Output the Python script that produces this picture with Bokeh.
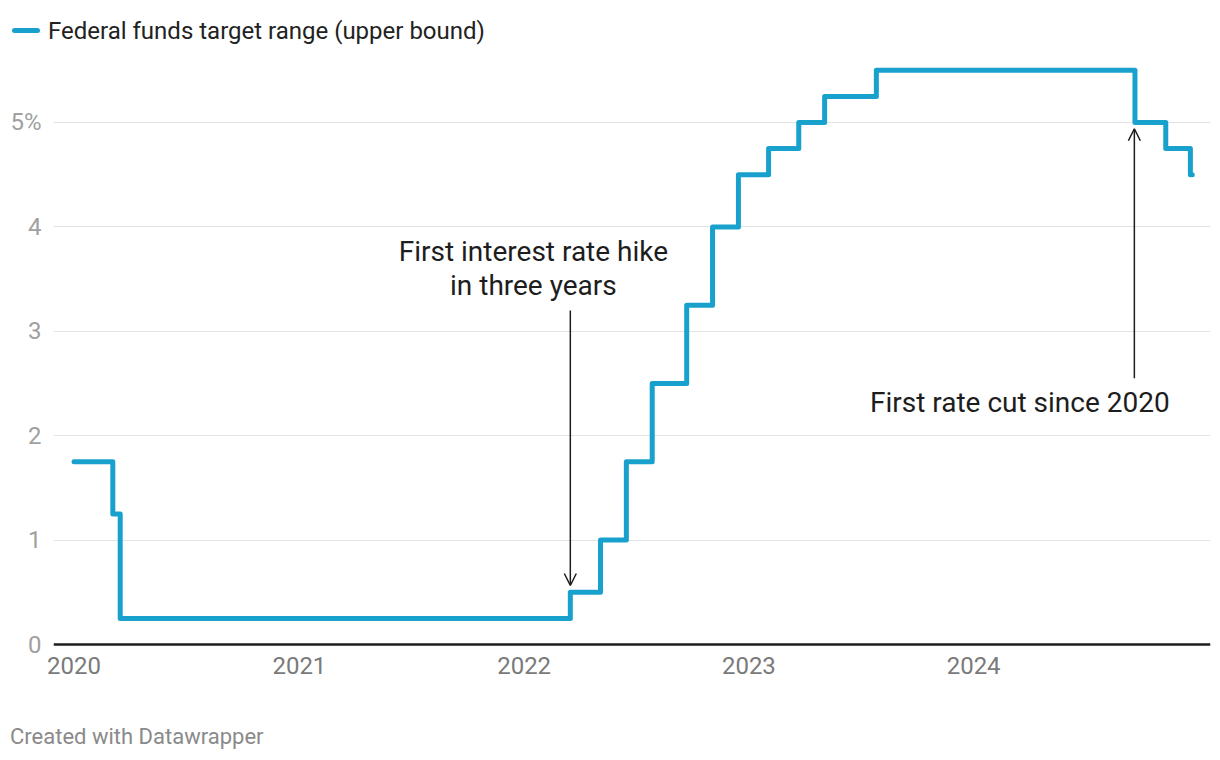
import pandas as pd
from bokeh.plotting import figure
from bokeh.layouts import column
from bokeh.models import (ColumnDataSource, Range1d, FixedTicker, DatetimeTickFormatter,
                          Arrow, OpenHead, Label, Div)
from bokeh.embed import file_html
from bokeh.resources import INLINE

# ---------------- data ----------------
change_dates = ["2020-01-01", "2020-03-04", "2020-03-16", "2022-03-17", "2022-05-05",
                "2022-06-16", "2022-07-28", "2022-09-22", "2022-11-03", "2022-12-15",
                "2023-02-02", "2023-03-23", "2023-05-04", "2023-07-27", "2024-09-19",
                "2024-11-08", "2024-12-18", "2024-12-21"]
upper_bound = [1.75, 1.25, 0.25, 0.50, 1.00,
               1.75, 2.50, 3.25, 4.00, 4.50,
               4.75, 5.00, 5.25, 5.50, 5.00,
               4.75, 4.50, 4.50]
year_ticks = ["2020-01-01", "2021-01-01", "2022-01-01", "2023-01-01", "2024-01-01"]
y_ticks = [0, 1, 2, 3, 4, 5]
series_name = "Federal funds target range (upper bound)"
footer_text = "Created with Datawrapper"

hike_note = ["First interest rate hike", "in three years"]
hike_date = "2022-03-17"
cut_note = "First rate cut since 2020"
cut_date = "2024-09-18"

BLUE = "#18a1cd"
INK = "#1d1d1d"
FONT = "Roboto"
W = 1212


def ms(d):
    return pd.Timestamp(d).timestamp() * 1000.0


src = ColumnDataSource(dict(date=pd.to_datetime(change_dates), rate=upper_bound))

# ---------------- legend (top) ----------------
legend_div = Div(
    text=(f'<div style="position:relative;width:{W}px;height:56px;">'
          f'<div style="position:absolute;left:12px;top:28px;width:28px;height:5px;'
          f'border-radius:3px;background:{BLUE};"></div>'
          f'<div style="position:absolute;left:48px;top:31px;transform:translateY(-50%);'
          f'font-family:{FONT};font-size:24px;line-height:1;color:#222222;white-space:nowrap;">'
          f'{series_name}</div></div>'),
    width=W, height=56, margin=0)

# ---------------- chart ----------------
p = figure(width=W, height=644, output_backend="svg", toolbar_location=None,
           x_axis_type="datetime",
           x_range=Range1d(pd.Timestamp("2019-11-28 16:00"), pd.Timestamp("2025-01-19 16:00")),
           y_range=Range1d(-0.0383, 5.613),
           min_border_left=53, min_border_right=2, min_border_top=2, min_border_bottom=52,
           margin=0)
p.outline_line_color = None
p.background_fill_color = "white"
p.border_fill_color = "white"

# zero baseline
p.hspan(y=[0], line_color=INK, line_width=2.5)

p.step(x="date", y="rate", source=src, mode="after", line_width=5, line_color=BLUE,
       line_join="round", line_cap="round")

# axes
p.xgrid.grid_line_color = None
p.ygrid.grid_line_color = "#e3e3e3"
p.ygrid.grid_line_width = 1
p.ygrid.ticker = FixedTicker(ticks=y_ticks[1:])

p.yaxis.ticker = FixedTicker(ticks=y_ticks)
p.yaxis.major_label_overrides = {5: "5%"}
p.yaxis.axis_line_color = None
p.yaxis.major_tick_line_color = None
p.yaxis.major_tick_out = 0
p.yaxis.major_tick_in = 0
p.yaxis.minor_tick_line_color = None
p.yaxis.major_label_standoff = 12
p.yaxis.major_label_text_font = FONT
p.yaxis.major_label_text_font_size = "24px"
p.yaxis.major_label_text_color = "#a0a0a0"

p.xaxis.ticker = FixedTicker(ticks=[ms(d) for d in year_ticks])
p.xaxis.formatter = DatetimeTickFormatter(years="%Y", months="%Y", days="%Y", hours="%Y")
p.xaxis.axis_line_color = None
p.xaxis.major_tick_line_color = None
p.xaxis.major_tick_out = 0
p.xaxis.major_tick_in = 0
p.xaxis.minor_tick_line_color = None
p.xaxis.major_label_standoff = 8
p.xaxis.major_label_text_font = FONT
p.xaxis.major_label_text_font_size = "24px"
p.xaxis.major_label_text_color = "#7a7a7a"

# annotations
p.add_layout(Arrow(end=OpenHead(size=12, line_color=INK, line_width=1.5),
                   x_start=ms(hike_date), y_start=3.20, x_end=ms(hike_date), y_end=0.565,
                   line_color=INK, line_width=1.5))
p.add_layout(Arrow(end=OpenHead(size=12, line_color=INK, line_width=1.5),
                   x_start=ms(cut_date), y_start=2.55, x_end=ms(cut_date), y_end=4.94,
                   line_color=INK, line_width=1.5))

for txt, yy in zip(hike_note, [3.764, 3.44]):
    p.add_layout(Label(x=ms("2022-01-16"), y=yy, text=txt, text_align="center",
                       text_baseline="middle", text_font=FONT, text_font_size="28px",
                       text_color=INK))
p.add_layout(Label(x=ms("2024-03-16"), y=2.318, text=cut_note, text_align="center",
                   text_baseline="middle", text_font=FONT, text_font_size="28px",
                   text_color=INK))

# ---------------- footer ----------------
footer_div = Div(
    text=(f'<div style="position:relative;width:{W}px;height:52px;">'
          f'<div style="position:absolute;left:10px;top:37px;transform:translateY(-50%);'
          f'font-family:{FONT};font-size:22px;line-height:1;color:#8a8a8a;white-space:nowrap;">'
          f'{footer_text}</div></div>'),
    width=W, height=52, margin=0)

layout = column(legend_div, p, footer_div, spacing=0)

open("out.html", "w").write(file_html(layout, INLINE))
